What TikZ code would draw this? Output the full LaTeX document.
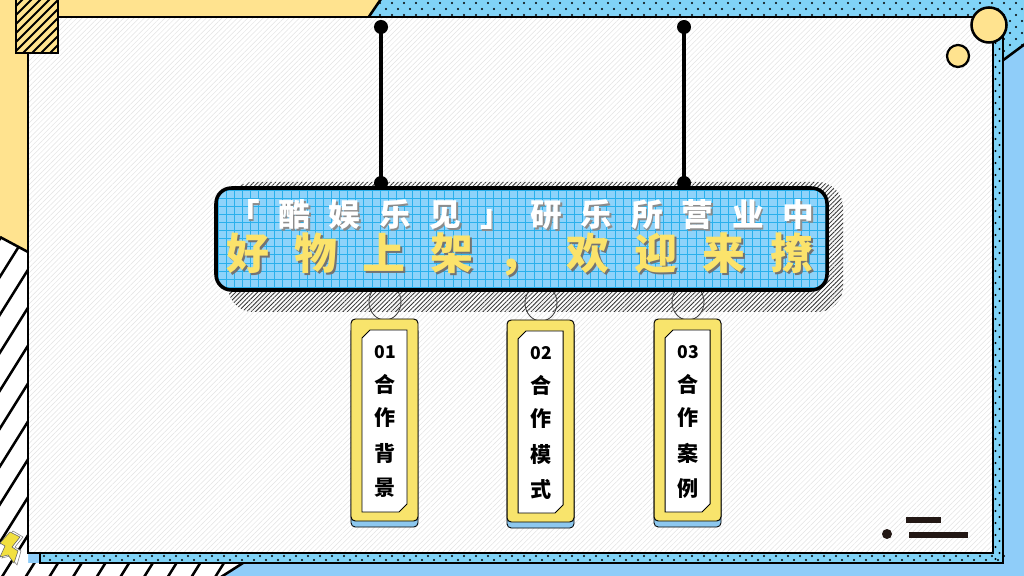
\documentclass[tikz,border=0pt]{standalone}
\usepackage{fontspec}
\newfontfamily\cjk{Noto Sans CJK SC}
\usetikzlibrary{patterns.meta}
\definecolor{bgyellow}{HTML}{FFE38F}
\definecolor{bgblue}{HTML}{8FCDF9}
\definecolor{dotblue}{HTML}{80D3F7}
\definecolor{tagyellow}{HTML}{F8E46C}
\definecolor{txtyellow}{HTML}{FBE36B}
\definecolor{bannerblue}{HTML}{8ED3FA}
\definecolor{gridblue}{HTML}{2AB0EC}
\definecolor{tagblue}{HTML}{8DC8EF}
\definecolor{darkbar}{HTML}{231815}
\definecolor{boltyellow}{HTML}{F2E040}
\newcommand\shadowed[4]{\makebox[0pt][l]{\kern#1\raisebox{-#2}{\textcolor{#3}{#4}}}#4}
\newcommand\hangtag[7]{%
  \draw[black!75, line width=0.6pt] (#1+34,#2-17) ellipse (16 and 18);
  \filldraw[fill=tagblue, rounded corners=3pt, line width=0.6pt] (#1,#2+8) rectangle (#1+67,#2+208);
  \filldraw[fill=tagyellow, rounded corners=3pt, line width=0.7pt] (#1,#2) rectangle (#1+67,#2+202);
  \filldraw[fill=white, line width=0.7pt] (#1+19,#2+11) -- (#1+56,#2+11) -- (#1+56,#2+185) -- (#1+48,#2+193) -- (#1+11,#2+193) -- (#1+11,#2+19) -- cycle;
  \node[tagnum] (tag#3-n) at (#1+34,#2+33) {#3};
  \node[tagchar] (tag#3-a) at (#1+34,#2+65) {#4};
  \node[tagchar] (tag#3-b) at (#1+34,#2+99) {#5};
  \node[tagchar] (tag#3-c) at (#1+34,#2+134) {#6};
  \node[tagchar] (tag#3-d) at (#1+34,#2+169) {#7};
}
\begin{document}
\begin{tikzpicture}[x=0.025cm,y=-0.025cm,
  border/.style={line width=1.8pt},
  tagchar/.style={inner sep=0pt, font=\cjk\bfseries\fontsize{15}{16}\selectfont},
  tagnum/.style={inner sep=0pt, font=\cjk\bfseries\fontsize{12.5}{13}\selectfont},
  lineone/.style={inner sep=0pt, text height=0.78em, text depth=0.08em, text=white, font=\cjk\bfseries\fontsize{22.5}{23}\selectfont},
  linetwo/.style={inner sep=0pt, text height=0.78em, text depth=0.08em, text=txtyellow, font=\cjk\bfseries\fontsize{30.5}{31}\selectfont},
  rod/.style={line width=2.9pt},
]
\useasboundingbox (0,0) rectangle (1024,576);
\clip (0,0) rectangle (1024,576);
% background
\fill[bgblue] (0,0) rectangle (1024,576);
% dotted top region
\fill[dotblue] (380,0) -- (1024,0) -- (1024,45) -- (1003,60) -- (1003,17) -- (368,17) -- cycle;
\begin{scope}
  \clip (380,0) -- (1024,0) -- (1024,45) -- (1003,60) -- (1003,17) -- (368,17) -- cycle;
  \foreach \r in {0,...,10}{
    \foreach \c in {0,...,55}{
      \fill ({368+\c*12+mod(\r,2)*6},{3+\r*6}) circle (1.2);
    }
  }
\end{scope}
% yellow region
\fill[bgyellow] (0,0) -- (380,0) -- (368,17) -- (28,17) -- (28,252) -- (0,237) -- cycle;
\draw[border] (381,-1) -- (368,18);
\draw[border] (1002,61) -- (1025,44);
% hatched region
\fill[white] (0,237) -- (28,252) -- (28,563) -- (242,563) -- (222,576) -- (0,576) -- cycle;
\begin{scope}
  \clip (0,237) -- (28,252) -- (28,563) -- (242,563) -- (222,576) -- (0,576) -- cycle;
  \foreach \k in {-10,...,11}{
    \draw[line width=1.8pt] ({\k*23.7},580) -- ({\k*23.7+240},196);
  }
\end{scope}
\draw[border] (0,237) -- (28,252);
\draw[border] (243,563) -- (221,577);
% shadow frame
\filldraw[fill=dotblue, border] (40,28) rectangle (1003,563);
\foreach \r in {0,...,88}{
  \fill ({995.5+mod(\r,2)*4},{31+\r*6}) circle (1.1);
}
\foreach \c in {0,...,160}{
  \fill ({44+\c*6},{556+mod(\c,2)*4}) circle (1.1);
}
% main panel
\fill[white] (28,17) rectangle (993,553);
\path[pattern={Lines[angle=45,distance=2.6pt,line width=0.35pt]}, pattern color=black!11] (28,17) rectangle (993,553);
\draw[border] (28,17) rectangle (993,553);
% top-left small hatched box
\fill[bgyellow] (16,-2) rectangle (58,53);
\begin{scope}
  \clip (16,-2) rectangle (58,53);
  \foreach \k in {-6,...,10}{
    \draw[line width=1.5pt] ({16+\k*9},60) -- ({16+\k*9+70},-10);
  }
\end{scope}
\draw[border] (16,-2) rectangle (58,53);
% circles top right
\filldraw[fill=bgyellow, line width=1.8pt] (989,25) circle (17.5);
\filldraw[fill=bgyellow, line width=1.6pt] (958,56) circle (11);
% bottom-right deco
\fill[darkbar] (887,534) circle (5);
\draw[darkbar, line width=3.6pt] (906,520) -- (941,520);
\draw[darkbar, line width=3.6pt] (909,535) -- (968,535);
% lightning bolt
\filldraw[fill=white, draw=black!50, line width=0.4pt] (13,531) -- (23,537) -- (15,547) -- (21,551) -- (17,565) -- (10,556) -- (2,558) -- (8,546) -- (3,543) -- cycle;
\filldraw[fill=boltyellow, draw=black!60, line width=0.4pt] (10,532) -- (20,537) -- (12,547) -- (18,551) -- (14,563) -- (8,555) -- (0,557) -- (5,546) -- (0,543) -- cycle;
% banner shadow
\path[pattern={Lines[angle=45,distance=2.2pt,line width=0.55pt]}, pattern color=black!80, rounded corners=18pt] (228,182) rectangle (843,312);
% tags and loops
\hangtag{351}{319}{01}{合}{作}{背}{景}
\hangtag{507}{320}{02}{合}{作}{模}{式}
\hangtag{654}{319}{03}{合}{作}{案}{例}
% banner
\fill[bannerblue, rounded corners=11pt] (216,188) rectangle (827,290);
\begin{scope}
  \clip[rounded corners=11pt] (216,188) rectangle (827,290);
  \foreach \x in {0,...,76}{
    \draw[gridblue, line width=0.55pt] ({218+\x*8.1},186) -- ({218+\x*8.1},292);
  }
  \foreach \y in {0,...,13}{
    \draw[gridblue, line width=0.55pt] (214,{190+\y*8.1}) -- (829,{190+\y*8.1});
  }
\end{scope}
\draw[line width=2.5pt, rounded corners=11pt] (216,188) rectangle (827,290);
% rods
\coordinate (rodAtop) at (381,27);
\coordinate (rodAbot) at (381,183);
\coordinate (rodBtop) at (684,27);
\coordinate (rodBbot) at (684,183);
\draw[rod] (rodAtop) -- (rodAbot);
\draw[rod] (rodBtop) -- (rodBbot);
\fill (rodAtop) circle (7);
\fill (rodAbot) circle (7);
\fill (rodBtop) circle (7);
\fill (rodBbot) circle (7);
% banner text line 1
\foreach \ch [count=\i from 0] in {「,酷,娱,乐,见,」,研,乐,所,营,业,中}{
  \node[lineone] (one-\i) at ({244+\i*50.4},222) {\shadowed{1.1pt}{1.1pt}{black!45}{\ch}};
}
% banner text line 2
\foreach \ch [count=\i from 0] in {好,物,上,架,，,欢,迎,来,撩}{
  \node[linetwo] (two-\i) at ({248+\i*68},265) {\shadowed{1.4pt}{1.4pt}{black!55}{\ch}};
}
\end{tikzpicture}
\end{document}
